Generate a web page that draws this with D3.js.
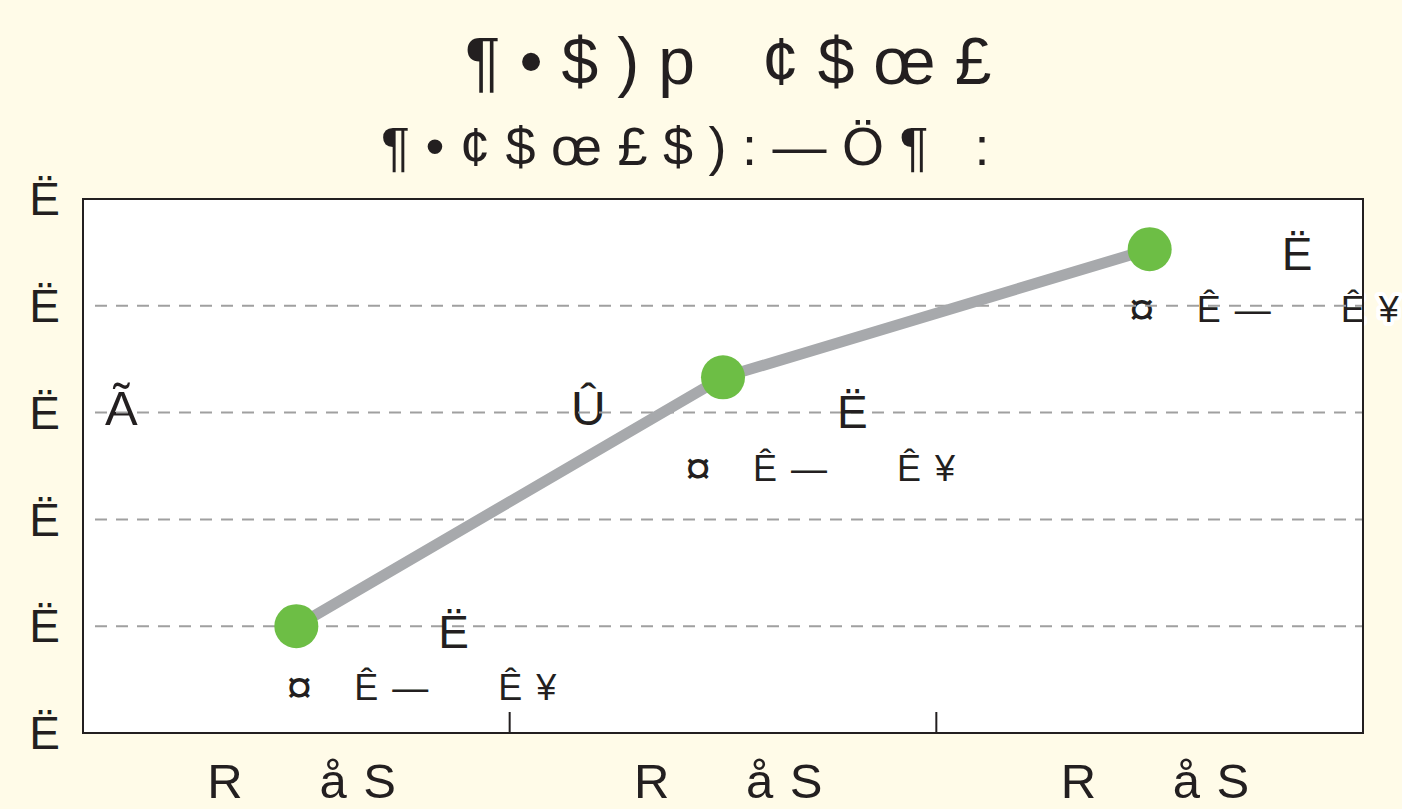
<!DOCTYPE html>
<html>
<head>
<meta charset="utf-8">
<script src="https://cdn.jsdelivr.net/npm/d3@7"></script>
<style>
    body { margin: 0; background: #fffbe8; }
    svg text { font-family: "Liberation Sans", Arial, sans-serif; fill: #231f20; white-space: pre; }
</style>
</head>
<body>
<div id="chart"></div>
<script>
// chart data
var categories = ['R  åS', 'R  åS', 'R  åS'];
var values = [1, 3.33, 4.53];
var valueLabels = ['Ë', 'Ë', 'Ë'];
var subLabelParts = ['¤', 'Ê', '—', 'Ê', '¥'];
var yTicks = [0, 1, 2, 3, 4, 5];
var yTickLabels = ['Ë', 'Ë', 'Ë', 'Ë', 'Ë', 'Ë'];
var titleParts = ['¶•$)p', '¢$œ£'];
var subtitle = '¶•¢$œ£$):—Ö¶ :';

var width = 1402,
    height = 809,
    margin = {top: 199, right: 39, bottom: 76, left: 83};

var svg = d3.select('#chart')
    .append('svg')
    .attr('width', width)
    .attr('height', height);

svg.append('rect')
    .attr('width', width)
    .attr('height', height)
    .attr('fill', '#fffbe8');

var x = d3.scaleBand()
    .domain(d3.range(categories.length))
    .range([margin.left, width - margin.right]);

var y = d3.scaleLinear()
    .domain([0, 5])
    .range([height - margin.bottom, margin.top]);

var cx = function (d, i) { return x(i) + x.bandwidth() / 2; };

// plot area
svg.append('rect')
    .attr('x', margin.left)
    .attr('y', margin.top)
    .attr('width', width - margin.left - margin.right)
    .attr('height', height - margin.top - margin.bottom)
    .attr('fill', '#fff');

// annotations sit under the grid
svg.append('text')
    .attr('x', 105)
    .attr('y', y(3) + 12)
    .style('font-size', '49px')
    .text('Ã');

svg.append('text')
    .attr('x', 571)
    .attr('y', y(3) + 12)
    .style('font-size', '48px')
    .text('Û');

// sub labels under each point (white halo)
var subOffsets = [0, 68, 106, 212, 250];
var subShift = [[-10, 74], [-38, 104], [-21, 73]];

svg.append('g')
    .selectAll('g')
    .data(values)
    .enter()
    .append('g')
    .attr('transform', function (d, i) {
        return 'translate(' + (cx(d, i) + subShift[i][0]) + ',' + (y(d) + subShift[i][1]) + ')';
    })
    .selectAll('text')
    .data(subLabelParts)
    .enter()
    .append('text')
    .attr('x', function (d, j) { return subOffsets[j]; })
    .attr('dy', function (d, j) { return j === 0 ? 3 : 0; })
    .style('font-size', function (d, j) { return j === 0 ? '47px' : '36px'; })
    .style('paint-order', 'stroke')
    .attr('stroke', '#fff')
    .attr('stroke-width', 8)
    .attr('stroke-linejoin', 'round')
    .text(function (d) { return d; });

// grid
svg.append('g')
    .selectAll('line')
    .data(yTicks.slice(1, -1))
    .enter()
    .append('line')
    .attr('x1', margin.left + 12)
    .attr('x2', width - margin.right)
    .attr('y1', function (d) { return y(d); })
    .attr('y2', function (d) { return y(d); })
    .attr('stroke', '#a0a0a0')
    .attr('stroke-width', 2)
    .attr('stroke-dasharray', '12,9');

// y axis labels
var yAxis = d3.axisLeft(y)
    .tickValues(yTicks)
    .tickSize(0)
    .tickPadding(23)
    .tickFormat(function (d, i) { return yTickLabels[i]; });

svg.append('g')
    .attr('transform', 'translate(' + margin.left + ',0)')
    .call(yAxis)
    .call(function (g) { g.select('.domain').remove(); })
    .selectAll('text')
    .attr('dy', '0.34em')
    .style('font-size', '46px')
    .style('font-family', '"Liberation Sans", Arial, sans-serif')
    .attr('fill', '#231f20');

// x axis labels
var xAxis = d3.axisBottom(x)
    .tickSize(0)
    .tickFormat(function (d, i) { return categories[i]; });

svg.append('g')
    .attr('transform', 'translate(0,' + (height - margin.bottom) + ')')
    .call(xAxis)
    .call(function (g) { g.select('.domain').remove(); })
    .selectAll('text')
    .attr('text-anchor', 'start')
    .attr('x', -89)
    .attr('y', 65)
    .attr('dy', 0)
    .style('font-size', '49px')
    .style('letter-spacing', '16.5px')
    .style('font-family', '"Liberation Sans", Arial, sans-serif')
    .attr('fill', '#231f20');

// band separators
svg.append('g')
    .selectAll('line')
    .data(d3.range(1, categories.length))
    .enter()
    .append('line')
    .attr('x1', function (d) { return x(d); })
    .attr('x2', function (d) { return x(d); })
    .attr('y1', y(0))
    .attr('y2', y(0) - 21)
    .attr('stroke', '#231f20')
    .attr('stroke-width', 2);

// border
svg.append('rect')
    .attr('x', margin.left)
    .attr('y', margin.top)
    .attr('width', width - margin.left - margin.right)
    .attr('height', height - margin.top - margin.bottom)
    .attr('fill', 'none')
    .attr('stroke', '#231f20')
    .attr('stroke-width', 2);

// line
var line = d3.line()
    .x(function (d, i) { return cx(d, i); })
    .y(function (d) { return y(d); });

svg.append('path')
    .datum(values)
    .attr('d', line)
    .attr('fill', 'none')
    .attr('stroke', '#a7a9ac')
    .attr('stroke-width', 11);

svg.append('g')
    .selectAll('circle')
    .data(values)
    .enter()
    .append('circle')
    .attr('cx', cx)
    .attr('cy', function (d) { return y(d); })
    .attr('r', 22)
    .attr('fill', '#6dbe45');

// value labels
var labelShift = [[142, 22], [114, 51], [132, 21]];

svg.append('g')
    .selectAll('text')
    .data(values)
    .enter()
    .append('text')
    .attr('x', function (d, i) { return cx(d, i) + labelShift[i][0]; })
    .attr('y', function (d, i) { return y(d) + labelShift[i][1]; })
    .style('font-size', '46px')
    .text(function (d, i) { return valueLabels[i]; });

// titles
var t = svg.append('text')
    .attr('x', 465)
    .attr('y', 84)
    .style('font-size', '66px')
    .style('letter-spacing', '19px');

t.append('tspan').text(titleParts[0]);
t.append('tspan').attr('dx', 48).text(titleParts[1]);

svg.append('text')
    .attr('x', 381)
    .attr('y', 165)
    .style('font-size', '54px')
    .style('letter-spacing', '15.5px')
    .text(subtitle);
</script>
</body>
</html>
